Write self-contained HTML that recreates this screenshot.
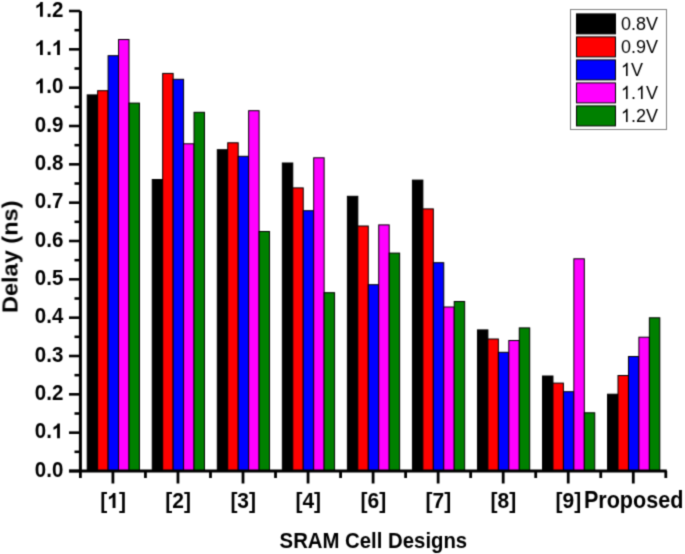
<!DOCTYPE html>
<html><head><meta charset="utf-8"><style>
html,body{margin:0;padding:0;background:#fff;}
svg{display:block;}
</style></head><body>
<svg width="685" height="554" viewBox="0 0 685 554">
<defs><filter id="soft" x="0" y="0" width="685" height="554" filterUnits="userSpaceOnUse" color-interpolation-filters="sRGB"><feConvolveMatrix order="3" kernelMatrix="1 4 1 4 16 4 1 4 1" divisor="36" edgeMode="duplicate"/></filter></defs>
<g filter="url(#soft)">
<rect width="685" height="554" fill="#fff"/>
<rect x="87.20" y="94.90" width="10.45" height="376.10" fill="#000000" stroke="#000" stroke-width="1"/>
<rect x="97.65" y="90.70" width="10.45" height="380.30" fill="#ff0000" stroke="#000" stroke-width="1"/>
<rect x="108.10" y="55.70" width="10.45" height="415.30" fill="#0000ff" stroke="#000" stroke-width="1"/>
<rect x="118.55" y="39.50" width="10.45" height="431.50" fill="#ff00ff" stroke="#000" stroke-width="1"/>
<rect x="129.00" y="103.10" width="10.45" height="367.90" fill="#008000" stroke="#000" stroke-width="1"/>
<rect x="152.24" y="179.50" width="10.45" height="291.50" fill="#000000" stroke="#000" stroke-width="1"/>
<rect x="162.69" y="73.40" width="10.45" height="397.60" fill="#ff0000" stroke="#000" stroke-width="1"/>
<rect x="173.14" y="79.30" width="10.45" height="391.70" fill="#0000ff" stroke="#000" stroke-width="1"/>
<rect x="183.59" y="143.80" width="10.45" height="327.20" fill="#ff00ff" stroke="#000" stroke-width="1"/>
<rect x="194.04" y="112.30" width="10.45" height="358.70" fill="#008000" stroke="#000" stroke-width="1"/>
<rect x="217.29" y="149.70" width="10.45" height="321.30" fill="#000000" stroke="#000" stroke-width="1"/>
<rect x="227.74" y="142.80" width="10.45" height="328.20" fill="#ff0000" stroke="#000" stroke-width="1"/>
<rect x="238.19" y="156.30" width="10.45" height="314.70" fill="#0000ff" stroke="#000" stroke-width="1"/>
<rect x="248.64" y="110.70" width="10.45" height="360.30" fill="#ff00ff" stroke="#000" stroke-width="1"/>
<rect x="259.09" y="231.50" width="10.45" height="239.50" fill="#008000" stroke="#000" stroke-width="1"/>
<rect x="282.33" y="163.00" width="10.45" height="308.00" fill="#000000" stroke="#000" stroke-width="1"/>
<rect x="292.78" y="187.90" width="10.45" height="283.10" fill="#ff0000" stroke="#000" stroke-width="1"/>
<rect x="303.23" y="210.70" width="10.45" height="260.30" fill="#0000ff" stroke="#000" stroke-width="1"/>
<rect x="313.68" y="157.80" width="10.45" height="313.20" fill="#ff00ff" stroke="#000" stroke-width="1"/>
<rect x="324.13" y="292.70" width="10.45" height="178.30" fill="#008000" stroke="#000" stroke-width="1"/>
<rect x="347.38" y="196.30" width="10.45" height="274.70" fill="#000000" stroke="#000" stroke-width="1"/>
<rect x="357.82" y="226.00" width="10.45" height="245.00" fill="#ff0000" stroke="#000" stroke-width="1"/>
<rect x="368.27" y="284.70" width="10.45" height="186.30" fill="#0000ff" stroke="#000" stroke-width="1"/>
<rect x="378.73" y="224.90" width="10.45" height="246.10" fill="#ff00ff" stroke="#000" stroke-width="1"/>
<rect x="389.18" y="253.10" width="10.45" height="217.90" fill="#008000" stroke="#000" stroke-width="1"/>
<rect x="412.42" y="180.10" width="10.45" height="290.90" fill="#000000" stroke="#000" stroke-width="1"/>
<rect x="422.87" y="208.90" width="10.45" height="262.10" fill="#ff0000" stroke="#000" stroke-width="1"/>
<rect x="433.32" y="262.70" width="10.45" height="208.30" fill="#0000ff" stroke="#000" stroke-width="1"/>
<rect x="443.77" y="307.00" width="10.45" height="164.00" fill="#ff00ff" stroke="#000" stroke-width="1"/>
<rect x="454.22" y="301.50" width="10.45" height="169.50" fill="#008000" stroke="#000" stroke-width="1"/>
<rect x="477.46" y="329.90" width="10.45" height="141.10" fill="#000000" stroke="#000" stroke-width="1"/>
<rect x="487.91" y="339.00" width="10.45" height="132.00" fill="#ff0000" stroke="#000" stroke-width="1"/>
<rect x="498.36" y="352.30" width="10.45" height="118.70" fill="#0000ff" stroke="#000" stroke-width="1"/>
<rect x="508.81" y="340.50" width="10.45" height="130.50" fill="#ff00ff" stroke="#000" stroke-width="1"/>
<rect x="519.26" y="327.90" width="10.45" height="143.10" fill="#008000" stroke="#000" stroke-width="1"/>
<rect x="542.51" y="376.00" width="10.45" height="95.00" fill="#000000" stroke="#000" stroke-width="1"/>
<rect x="552.96" y="383.10" width="10.45" height="87.90" fill="#ff0000" stroke="#000" stroke-width="1"/>
<rect x="563.41" y="391.70" width="10.45" height="79.30" fill="#0000ff" stroke="#000" stroke-width="1"/>
<rect x="573.86" y="258.80" width="10.45" height="212.20" fill="#ff00ff" stroke="#000" stroke-width="1"/>
<rect x="584.31" y="412.80" width="10.45" height="58.20" fill="#008000" stroke="#000" stroke-width="1"/>
<rect x="607.55" y="394.20" width="10.45" height="76.80" fill="#000000" stroke="#000" stroke-width="1"/>
<rect x="618.00" y="375.50" width="10.45" height="95.50" fill="#ff0000" stroke="#000" stroke-width="1"/>
<rect x="628.45" y="356.50" width="10.45" height="114.50" fill="#0000ff" stroke="#000" stroke-width="1"/>
<rect x="638.90" y="337.20" width="10.45" height="133.80" fill="#ff00ff" stroke="#000" stroke-width="1"/>
<rect x="649.35" y="317.80" width="10.45" height="153.20" fill="#008000" stroke="#000" stroke-width="1"/>
<line x1="80.4" y1="11" x2="80.4" y2="471.0" stroke="#000" stroke-width="3"/>
<line x1="69" y1="471.0" x2="666.8" y2="471.0" stroke="#000" stroke-width="3"/>
<line x1="69" y1="471.00" x2="80.4" y2="471.00" stroke="#000" stroke-width="2.6"/>
<g transform="translate(63.30,476.70) scale(1.0000,1.0500)"><text x="-28.50" y="0" font-family="Liberation Sans" font-weight="bold" font-size="20.5" xml:space="preserve">0.0</text></g>
<line x1="69" y1="432.67" x2="80.4" y2="432.67" stroke="#000" stroke-width="2.6"/>
<g transform="translate(63.30,438.37) scale(1.0000,1.0500)"><text x="-28.50" y="0" font-family="Liberation Sans" font-weight="bold" font-size="20.5" xml:space="preserve">0.</text><path transform="translate(-11.40,0) scale(0.01001,-0.01001)" d="M800 0L519 0L519 1017Q365 880 156 813L156 1058Q266 1093 395 1189Q524 1285 572 1409L800 1409Z"/></g>
<line x1="69" y1="394.33" x2="80.4" y2="394.33" stroke="#000" stroke-width="2.6"/>
<g transform="translate(63.30,400.03) scale(1.0000,1.0500)"><text x="-28.50" y="0" font-family="Liberation Sans" font-weight="bold" font-size="20.5" xml:space="preserve">0.2</text></g>
<line x1="69" y1="356.00" x2="80.4" y2="356.00" stroke="#000" stroke-width="2.6"/>
<g transform="translate(63.30,361.70) scale(1.0000,1.0500)"><text x="-28.50" y="0" font-family="Liberation Sans" font-weight="bold" font-size="20.5" xml:space="preserve">0.3</text></g>
<line x1="69" y1="317.67" x2="80.4" y2="317.67" stroke="#000" stroke-width="2.6"/>
<g transform="translate(63.30,323.37) scale(1.0000,1.0500)"><text x="-28.50" y="0" font-family="Liberation Sans" font-weight="bold" font-size="20.5" xml:space="preserve">0.4</text></g>
<line x1="69" y1="279.34" x2="80.4" y2="279.34" stroke="#000" stroke-width="2.6"/>
<g transform="translate(63.30,285.04) scale(1.0000,1.0500)"><text x="-28.50" y="0" font-family="Liberation Sans" font-weight="bold" font-size="20.5" xml:space="preserve">0.5</text></g>
<line x1="69" y1="241.00" x2="80.4" y2="241.00" stroke="#000" stroke-width="2.6"/>
<g transform="translate(63.30,246.70) scale(1.0000,1.0500)"><text x="-28.50" y="0" font-family="Liberation Sans" font-weight="bold" font-size="20.5" xml:space="preserve">0.6</text></g>
<line x1="69" y1="202.67" x2="80.4" y2="202.67" stroke="#000" stroke-width="2.6"/>
<g transform="translate(63.30,208.37) scale(1.0000,1.0500)"><text x="-28.50" y="0" font-family="Liberation Sans" font-weight="bold" font-size="20.5" xml:space="preserve">0.7</text></g>
<line x1="69" y1="164.34" x2="80.4" y2="164.34" stroke="#000" stroke-width="2.6"/>
<g transform="translate(63.30,170.04) scale(1.0000,1.0500)"><text x="-28.50" y="0" font-family="Liberation Sans" font-weight="bold" font-size="20.5" xml:space="preserve">0.8</text></g>
<line x1="69" y1="126.00" x2="80.4" y2="126.00" stroke="#000" stroke-width="2.6"/>
<g transform="translate(63.30,131.70) scale(1.0000,1.0500)"><text x="-28.50" y="0" font-family="Liberation Sans" font-weight="bold" font-size="20.5" xml:space="preserve">0.9</text></g>
<line x1="69" y1="87.67" x2="80.4" y2="87.67" stroke="#000" stroke-width="2.6"/>
<g transform="translate(63.30,93.37) scale(1.0000,1.0500)"><path transform="translate(-28.50,0) scale(0.01001,-0.01001)" d="M800 0L519 0L519 1017Q365 880 156 813L156 1058Q266 1093 395 1189Q524 1285 572 1409L800 1409Z"/><text x="-17.10" y="0" font-family="Liberation Sans" font-weight="bold" font-size="20.5" xml:space="preserve">.0</text></g>
<line x1="69" y1="49.34" x2="80.4" y2="49.34" stroke="#000" stroke-width="2.6"/>
<g transform="translate(63.30,55.04) scale(1.0000,1.0500)"><path transform="translate(-28.50,0) scale(0.01001,-0.01001)" d="M800 0L519 0L519 1017Q365 880 156 813L156 1058Q266 1093 395 1189Q524 1285 572 1409L800 1409Z"/><text x="-17.10" y="0" font-family="Liberation Sans" font-weight="bold" font-size="20.5" xml:space="preserve">.</text><path transform="translate(-11.40,0) scale(0.01001,-0.01001)" d="M800 0L519 0L519 1017Q365 880 156 813L156 1058Q266 1093 395 1189Q524 1285 572 1409L800 1409Z"/></g>
<line x1="69" y1="11.00" x2="80.4" y2="11.00" stroke="#000" stroke-width="2.6"/>
<g transform="translate(63.30,16.70) scale(1.0000,1.0500)"><path transform="translate(-28.50,0) scale(0.01001,-0.01001)" d="M800 0L519 0L519 1017Q365 880 156 813L156 1058Q266 1093 395 1189Q524 1285 572 1409L800 1409Z"/><text x="-17.10" y="0" font-family="Liberation Sans" font-weight="bold" font-size="20.5" xml:space="preserve">.2</text></g>
<line x1="74.5" y1="451.83" x2="80.4" y2="451.83" stroke="#000" stroke-width="2.6"/>
<line x1="74.5" y1="413.50" x2="80.4" y2="413.50" stroke="#000" stroke-width="2.6"/>
<line x1="74.5" y1="375.17" x2="80.4" y2="375.17" stroke="#000" stroke-width="2.6"/>
<line x1="74.5" y1="336.83" x2="80.4" y2="336.83" stroke="#000" stroke-width="2.6"/>
<line x1="74.5" y1="298.50" x2="80.4" y2="298.50" stroke="#000" stroke-width="2.6"/>
<line x1="74.5" y1="260.17" x2="80.4" y2="260.17" stroke="#000" stroke-width="2.6"/>
<line x1="74.5" y1="221.84" x2="80.4" y2="221.84" stroke="#000" stroke-width="2.6"/>
<line x1="74.5" y1="183.50" x2="80.4" y2="183.50" stroke="#000" stroke-width="2.6"/>
<line x1="74.5" y1="145.17" x2="80.4" y2="145.17" stroke="#000" stroke-width="2.6"/>
<line x1="74.5" y1="106.84" x2="80.4" y2="106.84" stroke="#000" stroke-width="2.6"/>
<line x1="74.5" y1="68.50" x2="80.4" y2="68.50" stroke="#000" stroke-width="2.6"/>
<line x1="74.5" y1="30.17" x2="80.4" y2="30.17" stroke="#000" stroke-width="2.6"/>
<line x1="80.40" y1="471.0" x2="80.40" y2="478" stroke="#000" stroke-width="2.8"/>
<line x1="145.44" y1="471.0" x2="145.44" y2="478" stroke="#000" stroke-width="2.8"/>
<line x1="210.49" y1="471.0" x2="210.49" y2="478" stroke="#000" stroke-width="2.8"/>
<line x1="275.53" y1="471.0" x2="275.53" y2="478" stroke="#000" stroke-width="2.8"/>
<line x1="340.58" y1="471.0" x2="340.58" y2="478" stroke="#000" stroke-width="2.8"/>
<line x1="405.62" y1="471.0" x2="405.62" y2="478" stroke="#000" stroke-width="2.8"/>
<line x1="470.67" y1="471.0" x2="470.67" y2="478" stroke="#000" stroke-width="2.8"/>
<line x1="535.71" y1="471.0" x2="535.71" y2="478" stroke="#000" stroke-width="2.8"/>
<line x1="600.76" y1="471.0" x2="600.76" y2="478" stroke="#000" stroke-width="2.8"/>
<line x1="665.80" y1="471.0" x2="665.80" y2="478" stroke="#000" stroke-width="2.8"/>
<line x1="112.92" y1="471.0" x2="112.92" y2="483.5" stroke="#000" stroke-width="2.8"/>
<g transform="translate(113.12,508.00) scale(1.0000,1.0300)"><text x="-12.83" y="0" font-family="Liberation Sans" font-weight="bold" font-size="21" xml:space="preserve">[</text><path transform="translate(-5.84,0) scale(0.01025,-0.01025)" d="M800 0L519 0L519 1017Q365 880 156 813L156 1058Q266 1093 395 1189Q524 1285 572 1409L800 1409Z"/><text x="5.84" y="0" font-family="Liberation Sans" font-weight="bold" font-size="21" xml:space="preserve">]</text></g>
<line x1="177.97" y1="471.0" x2="177.97" y2="483.5" stroke="#000" stroke-width="2.8"/>
<g transform="translate(178.17,508.00) scale(1.0000,1.0300)"><text x="-12.83" y="0" font-family="Liberation Sans" font-weight="bold" font-size="21" xml:space="preserve">[2]</text></g>
<line x1="243.01" y1="471.0" x2="243.01" y2="483.5" stroke="#000" stroke-width="2.8"/>
<g transform="translate(243.21,508.00) scale(1.0000,1.0300)"><text x="-12.83" y="0" font-family="Liberation Sans" font-weight="bold" font-size="21" xml:space="preserve">[3]</text></g>
<line x1="308.06" y1="471.0" x2="308.06" y2="483.5" stroke="#000" stroke-width="2.8"/>
<g transform="translate(308.26,508.00) scale(1.0000,1.0300)"><text x="-12.83" y="0" font-family="Liberation Sans" font-weight="bold" font-size="21" xml:space="preserve">[4]</text></g>
<line x1="373.10" y1="471.0" x2="373.10" y2="483.5" stroke="#000" stroke-width="2.8"/>
<g transform="translate(373.30,508.00) scale(1.0000,1.0300)"><text x="-12.83" y="0" font-family="Liberation Sans" font-weight="bold" font-size="21" xml:space="preserve">[6]</text></g>
<line x1="438.14" y1="471.0" x2="438.14" y2="483.5" stroke="#000" stroke-width="2.8"/>
<g transform="translate(438.34,508.00) scale(1.0000,1.0300)"><text x="-12.83" y="0" font-family="Liberation Sans" font-weight="bold" font-size="21" xml:space="preserve">[7]</text></g>
<line x1="503.19" y1="471.0" x2="503.19" y2="483.5" stroke="#000" stroke-width="2.8"/>
<g transform="translate(503.39,508.00) scale(1.0000,1.0300)"><text x="-12.83" y="0" font-family="Liberation Sans" font-weight="bold" font-size="21" xml:space="preserve">[8]</text></g>
<line x1="568.23" y1="471.0" x2="568.23" y2="483.5" stroke="#000" stroke-width="2.8"/>
<g transform="translate(568.43,508.00) scale(1.0000,1.0300)"><text x="-12.83" y="0" font-family="Liberation Sans" font-weight="bold" font-size="21" xml:space="preserve">[9]</text></g>
<line x1="633.28" y1="471.0" x2="633.28" y2="483.5" stroke="#000" stroke-width="2.8"/>
<g transform="translate(633.68,507.60) scale(1.0000,1.0770)"><text x="-49.81" y="0" font-family="Liberation Sans" font-weight="bold" font-size="21.6" xml:space="preserve">Proposed</text></g>
<g transform="translate(373.40,548.10) scale(1.0070,1.1000)"><text x="-93.16" y="0" font-family="Liberation Sans" font-weight="bold" font-size="20.2" xml:space="preserve">SRAM Cell Designs</text></g>
<g transform="translate(17.50,256.80) rotate(-90) scale(1.0970,1.0000)"><text x="-51.38" y="0" font-family="Liberation Sans" font-weight="bold" font-size="21.5" xml:space="preserve">Delay (ns)</text></g>
<rect x="570.5" y="9.5" width="96" height="120" fill="#fff" stroke="#808080" stroke-width="1"/>
<rect x="576.5" y="13.90" width="39" height="20" fill="#000000" stroke="#000" stroke-width="1"/>
<g transform="translate(620.90,30.10) scale(1.0000,1.0700)"><text x="0.00" y="0" font-family="Liberation Sans" font-size="18" xml:space="preserve">0.8V</text></g>
<rect x="576.5" y="36.90" width="39" height="20" fill="#ff0000" stroke="#000" stroke-width="1"/>
<g transform="translate(620.90,53.10) scale(1.0000,1.0700)"><text x="0.00" y="0" font-family="Liberation Sans" font-size="18" xml:space="preserve">0.9V</text></g>
<rect x="576.5" y="59.90" width="39" height="20" fill="#0000ff" stroke="#000" stroke-width="1"/>
<g transform="translate(620.90,76.10) scale(1.0000,1.0700)"><path transform="translate(0.00,0) scale(0.00879,-0.00879)" d="M763 0L583 0L583 1102Q518 1042 412 983Q306 924 223 894L223 1061Q372 1128 484 1224Q596 1320 642 1409L763 1409Z"/><text x="10.01" y="0" font-family="Liberation Sans" font-size="18" xml:space="preserve">V</text></g>
<rect x="576.5" y="82.90" width="39" height="20" fill="#ff00ff" stroke="#000" stroke-width="1"/>
<g transform="translate(620.90,99.10) scale(1.0000,1.0700)"><path transform="translate(0.00,0) scale(0.00879,-0.00879)" d="M763 0L583 0L583 1102Q518 1042 412 983Q306 924 223 894L223 1061Q372 1128 484 1224Q596 1320 642 1409L763 1409Z"/><text x="10.01" y="0" font-family="Liberation Sans" font-size="18" xml:space="preserve">.</text><path transform="translate(15.01,0) scale(0.00879,-0.00879)" d="M763 0L583 0L583 1102Q518 1042 412 983Q306 924 223 894L223 1061Q372 1128 484 1224Q596 1320 642 1409L763 1409Z"/><text x="25.02" y="0" font-family="Liberation Sans" font-size="18" xml:space="preserve">V</text></g>
<rect x="576.5" y="105.90" width="39" height="20" fill="#008000" stroke="#000" stroke-width="1"/>
<g transform="translate(620.90,122.10) scale(1.0000,1.0700)"><path transform="translate(0.00,0) scale(0.00879,-0.00879)" d="M763 0L583 0L583 1102Q518 1042 412 983Q306 924 223 894L223 1061Q372 1128 484 1224Q596 1320 642 1409L763 1409Z"/><text x="10.01" y="0" font-family="Liberation Sans" font-size="18" xml:space="preserve">.2V</text></g>
</g>
</svg>
</body></html>
